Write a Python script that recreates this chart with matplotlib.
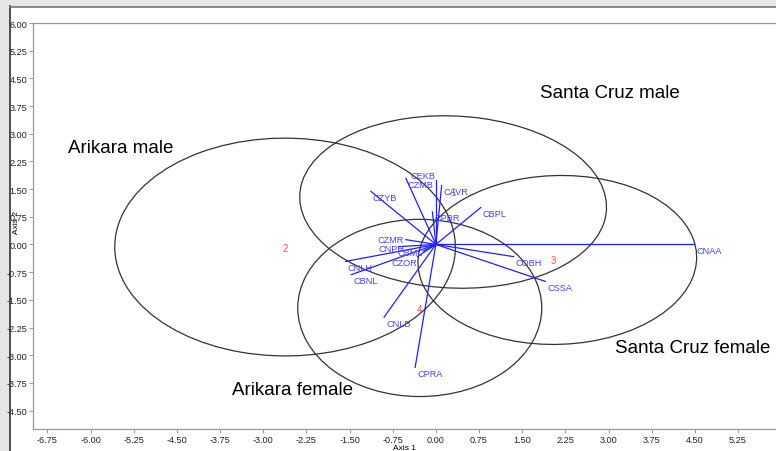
import numpy as np
import matplotlib
matplotlib.use("Agg")
import matplotlib.pyplot as plt
from matplotlib.patches import Ellipse, Rectangle
from matplotlib.lines import Line2D

plt.rcParams['font.family'] = ['Liberation Sans', 'DejaVu Sans']
plt.rcParams['axes.unicode_minus'] = False

# biplot vectors (variable loadings)
var_names = ['CNAA', 'COBH', 'CSSA', 'CBPL', 'CAVR', 'CEKB', 'CZMB', 'CZYB', 'CPBR',
             'CZMR', 'CNPH', 'CBML', 'CZOR', 'CNLH', 'CBNL', 'CNLB', 'CPRA']
var_x = [4.49, 1.35, 1.90, 0.78, 0.10, 0.00, -0.52, -1.13, -0.06,
         -0.52, -0.65, -0.22, -0.32, -1.57, -1.47, -0.90, -0.36]
var_y = [0.00, -0.33, -1.00, 1.00, 1.59, 1.75, 1.79, 1.44, 0.88,
         0.13, -0.06, -0.18, -0.33, -0.46, -0.82, -1.97, -3.33]

# group centroids
grp_ids = ['1', '2', '3', '4']
grp_names = ['Santa Cruz male', 'Arikara male', 'Santa Cruz female', 'Arikara female']
grp_cx = [0.30, -2.62, 2.05, -0.28]
grp_cy = [1.42, -0.09, -0.42, -1.75]

# ellipses
ell_cx = [0.30, -2.62, 2.11, -0.28]
ell_cy = [1.15, -0.07, -0.42, -1.72]
ell_w = [5.36, 5.92, 4.86, 4.24]
ell_h = [4.64, 5.90, 4.56, 4.80]
ell_ang = [-12, -15, 14, 0]

xticks = np.arange(-6.75, 5.26, 0.75)
yticks = np.arange(-4.50, 6.01, 0.75)

fig = plt.figure(figsize=(7.76, 4.52), dpi=100)
W, H = 776.0, 452.0

# window frame bits
fig.patches.append(Rectangle((0, 0), 9 / W, 1, transform=fig.transFigure, color='#e4e6e8', zorder=-2))
fig.patches.append(Rectangle((0, 1 - 7 / H), 1, 7 / H, transform=fig.transFigure, color='#e4e6e8', zorder=-2))
fig.lines.append(Line2D([10 / W, 10 / W], [0, 1 - 7 / H], transform=fig.transFigure, color='#333333', lw=1.2, zorder=-1))
fig.lines.append(Line2D([10 / W, 1], [1 - 8 / H, 1 - 8 / H], transform=fig.transFigure, color='#777777', lw=1.2, zorder=-1))

ax = fig.add_axes([33 / W, 22 / H, 1 - 33 / W, (430 - 24) / H])
ax.set_xlim(-7.0, 5.91)
ax.set_ylim(-5.0, 6.0)

for i in range(len(grp_ids)):
    e = Ellipse((ell_cx[i], ell_cy[i]), ell_w[i], ell_h[i], angle=ell_ang[i],
                fill=False, edgecolor='#333333', lw=0.9)
    ax.add_patch(e)
    ax.text(grp_cx[i], grp_cy[i], grp_ids[i], color='#ff5050', fontsize=7,
            ha='center', va='center')

# label offsets in pixels (dx, dy, ha)
offs = {'CEKB': (0, 4, 'right'), 'CZMR': (-2, 0, 'right'), 'CNPH': (6, -2, 'right'),
        'CBML': (0, -1, 'right'), 'CZOR': (0, -6, 'right')}
for n, x, y in zip(var_names, var_x, var_y):
    ax.plot([0, x], [0, y], color='#2020ff', lw=0.9)
    dx, dy, ha = offs.get(n, (2, -6, 'left'))
    ax.annotate(n, (x, y), xytext=(dx, dy), textcoords='offset pixels',
                color='#4040ff', fontsize=6.6, ha=ha, va='center')

ax.text(1.81, 4.11, grp_names[0], fontsize=13.5, va='center')
ax.text(-6.40, 2.64, grp_names[1], fontsize=13.5, va='center')
ax.text(3.11, -2.78, grp_names[2], fontsize=13.5, va='center')
ax.text(-3.55, -3.92, grp_names[3], fontsize=13.5, va='center')

ax.set_xticks(xticks)
ax.set_yticks(yticks)
ax.set_xticklabels(['%.2f' % v for v in xticks])
ax.set_yticklabels(['%.2f' % v for v in yticks])
ax.tick_params(labelsize=6.6, length=3, width=0.6, color='#888888', pad=1, labelcolor='#222222')
for lab in ax.get_xticklabels() + ax.get_yticklabels():
    lab.set_family(['Liberation Sans Narrow', 'Liberation Sans'])
for s in ['left', 'bottom', 'top']:
    ax.spines[s].set_color('#999999')
    ax.spines[s].set_linewidth(0.9)
ax.spines['right'].set_visible(False)

ax.set_xlabel('Axis 1', fontsize=6, labelpad=0)
ax.set_ylabel('Axis 2', fontsize=6)
ax.yaxis.set_label_coords(-0.018, 0.51)

fig.savefig('out.png', dpi=100)
